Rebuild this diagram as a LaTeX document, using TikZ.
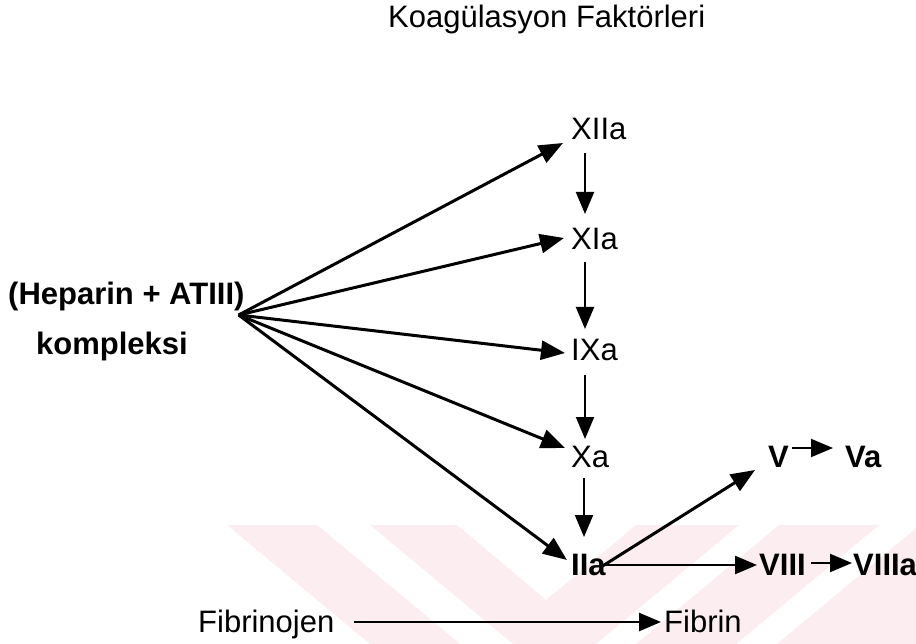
\documentclass[tikz,border=0pt]{standalone}
\usepackage{fontspec}
\setmainfont{Liberation Sans}
\usetikzlibrary{arrows.meta,calc}
\definecolor{wmpink}{RGB}{252,237,240}
\begin{document}
\begin{tikzpicture}[x=1pt,y=-1pt,
  lbl/.style={inner sep=0pt, anchor=base west, font=\fontsize{31}{36}\selectfont},
  lblb/.style={lbl, font=\fontsize{31}{36}\selectfont\bfseries},
  tip/.style={-{Triangle[length=22pt,width=18pt]}},
  bigtip/.style={-{Triangle[length=24pt,width=19pt]}},
  fan/.style={bigtip, line width=3pt},
  vstep/.style={tip, line width=2pt},
  side/.style={tip, line width=2.5pt},
]
\useasboundingbox (0,0) rectangle (916,644);

% pale striped band along the bottom
\fill[wmpink] (227,525) -- (317,525) -- (460,644) -- (370,644) -- cycle;
\fill[wmpink] (370,525) -- (457,525) -- (546,600) -- (636,525) -- (739,525)
  -- (596,644) -- (513,644) -- cycle;
\fill[wmpink] (779,525) -- (879,525) -- (736,644) -- (636,644) -- cycle;
\fill[wmpink] (920,525) -- (1000,525) -- (1000,644) -- (777,644) -- cycle;

% labels
\node[lbl]  (title) at (388,28)  {Koagülasyon Faktörleri};
\node[lblb] (hep)   at (8,305)   {(Heparin + ATIII)};
\node[lblb] (komp)  at (36,355)  {kompleksi};
\node[lbl]  (xiia)  at (571,140) {XIIa};
\node[lbl]  (xia)   at (571,250) {XIa};
\node[lbl]  (ixa)   at (571,360) {IXa};
\node[lbl]  (xa)    at (571,467) {Xa};
\node[lblb] (iia)   at (571,575) {IIa};
\node[lblb] (v)     at (768,467) {V};
\node[lblb] (va)    at (845,467) {Va};
\node[lblb] (viii)  at (759,575) {VIII};
\node[lblb] (viiia) at (853,575) {VIIIa};
\node[lbl]  (fgen)  at (198,632) {Fibrinojen};
\node[lbl]  (fin)   at (664,632) {Fibrin};

\coordinate (hub) at ($(hep.base east)+(-6,10)$);

% inhibition fan from the complex
\draw[fan] (hub) -- ($(xiia.base west)+(-8,3)$);
\draw[fan] (hub) -- ($(xia.base west)+(-7,-12)$);
\draw[fan] (hub) -- ($(ixa.base west)+(-6,-7)$);
\draw[fan] (hub) -- ($(xa.base west)+(-6,-19)$);
\draw[fan] (hub) -- ($(iia.base west)+(-4,-15)$);

% cascade
\draw[vstep] ($(xiia.base west)+(14,13)$) -- ($(xia.base west)+(14,-36)$);
\draw[vstep] ($(xia.base west)+(14,12)$)  -- ($(ixa.base west)+(14,-31)$);
\draw[vstep] ($(ixa.base west)+(14,15)$)  -- ($(xa.base west)+(14,-28)$);
\draw[vstep] ($(xa.base west)+(13,11)$)   -- ($(iia.base west)+(13,-38)$);

% thrombin targets
\draw[fan]  ($(iia.base west)+(30,-8)$)  -- ($(v.base west)+(-13,3)$);
\draw[side] ($(iia.base west)+(29,-10)$) -- ($(viii.base west)+(-2,-10)$);
\draw[vstep] ($(v.base east)+(3,-19)$)   -- ($(va.base west)+(-12,-19)$);
\draw[vstep] ($(viii.base east)+(5,-12)$) -- ($(viiia.base west)+(-1,-12)$);
\draw[side] ($(fgen.base east)+(19,-10)$) -- ($(fin.base west)+(-3,-10)$);
\end{tikzpicture}
\end{document}
